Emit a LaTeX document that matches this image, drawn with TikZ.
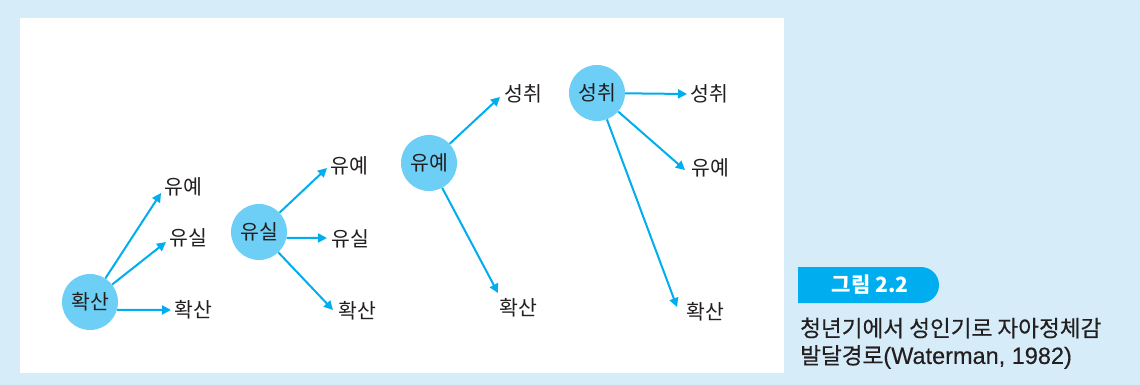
\documentclass[tikz,border=0pt]{standalone}
\usepackage{fontspec}
\setmainfont{Noto Sans CJK KR}
\newfontfamily\capfont[FakeBold=0.3]{Noto Sans CJK KR}
\newfontfamily\caplatin[FakeBold=0.3]{Liberation Sans}
\usetikzlibrary{arrows.meta}
\definecolor{bgblue}{RGB}{214,236,249}
\definecolor{arrowc}{RGB}{0,174,239}
\definecolor{circc}{RGB}{109,207,246}
\definecolor{txt}{RGB}{35,31,32}
\begin{document}
\begin{tikzpicture}[x=1pt,y=-1pt,
  state/.style={circle, fill=circc, minimum size=56pt, inner sep=0pt, text=txt, font=\fontsize{20.5}{20.5}\selectfont},
  lbl/.style={inner sep=0pt, text=txt, font=\fontsize{20.5}{20.5}\selectfont},
  arr/.style={draw=arrowc, line width=2pt, -{Triangle[length=9pt,width=9pt]}},
  captext/.style={anchor=west, inner sep=0pt, text=txt, font=\fontsize{22.6}{22.6}\selectfont\capfont}
]
\useasboundingbox (0,0) rectangle (1140,385);
\fill[bgblue] (0,0) rectangle (1140,385);
\fill[white] (20,18) rectangle (784,373);

% group 1
\node[state] (c1) at (90,302) {확산};
\node[lbl] (l11) at (183,187) {유예};
\node[lbl] (l12) at (188,238) {유실};
\node[lbl] (l13) at (193,310) {확산};
\coordinate (t11) at (161,193);
\coordinate (t12) at (166,242);
\coordinate (t13) at (171,310);
\draw[arr] (c1) -- (t11);
\draw[arr] (c1) -- (t12);
\draw[arr] (c1.-16) -- (t13);

% group 2
\node[state] (c2) at (259,232) {유실};
\node[lbl] (l21) at (349,166) {유예};
\node[lbl] (l22) at (350,239) {유실};
\node[lbl] (l23) at (357,311) {확산};
\coordinate (t21) at (327,168);
\coordinate (t22) at (327,238);
\coordinate (t23) at (333,310);
\draw[arr] (c2) -- (t21);
\draw[arr] (c2.-12) -- (t22);
\draw[arr] (c2) -- (t23);

% group 3
\node[state] (c3) at (429,163) {유예};
\node[lbl] (l31) at (523,94) {성취};
\node[lbl] (l32) at (518,308) {확산};
\coordinate (t31) at (500,97);
\coordinate (t32) at (498,293);
\draw[arr] (c3) -- (t31);
\draw[arr] (c3) -- (t32);

% group 4
\node[state] (c4) at (597,93) {성취};
\node[lbl] (l41) at (709,94) {성취};
\node[lbl] (l42) at (710,168) {유예};
\node[lbl] (l43) at (705,312) {확산};
\coordinate (t41) at (687,94);
\coordinate (t42) at (685,170);
\coordinate (t43) at (677,307);
\draw[arr] (c4) -- (t41);
\draw[arr] (c4) -- (t42);
\draw[arr] (c4) -- (t43);

% caption
\fill[arrowc] (798,267) [rounded corners=18pt] -- (939,267) -- (939,303) [sharp corners] -- (798,303) -- cycle;
\node[inner sep=0pt, text=white, font=\fontsize{21}{21}\selectfont\bfseries] (fig) at (870,285) {그림 2.2};
\node[captext] (cap1) at (800,328) {청년기에서 성인기로 자아정체감};
\node[captext] (cap2) at (800,357) {발달경로{\caplatin\fontsize{23.5}{23.5}\selectfont(Waterman, 1982)}};
\end{tikzpicture}
\end{document}
